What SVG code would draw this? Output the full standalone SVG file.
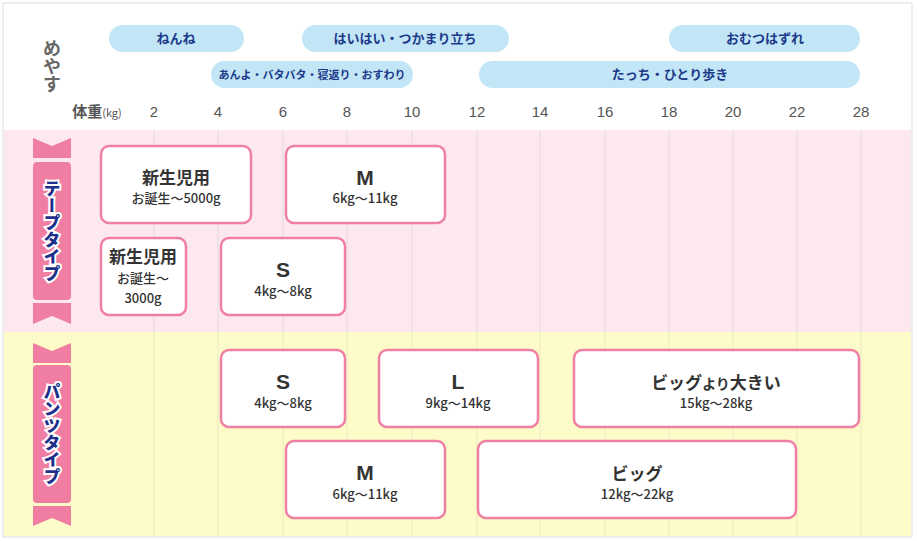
<svg xmlns="http://www.w3.org/2000/svg" width="917" height="541" viewBox="0 0 917 541">
<style>
.pill{fill:#c3e6f7}
.pt{font-family:"Noto Sans CJK JP",sans-serif;font-weight:bold;fill:#1d3a8a;text-anchor:middle}
.ax{font-family:"Liberation Sans",Arial,sans-serif;font-size:15px;fill:#555;text-anchor:middle}
.box{fill:#fff;stroke:#ef7fa3;stroke-width:2.5}
.t1{font-family:"Noto Sans CJK JP",sans-serif;font-size:17px;font-weight:bold;fill:#333;text-anchor:middle}
.t2{font-family:"Noto Sans CJK JP",sans-serif;font-size:13px;font-weight:500;fill:#333;text-anchor:middle}
.big{font-family:"Liberation Sans",Arial,sans-serif;font-size:21px}
.rib{fill:#f07ea2}
.vt{font-family:"Noto Sans CJK JP",sans-serif;font-size:17px;font-weight:900;fill:#1d2f8a;stroke:#fff;stroke-width:4;paint-order:stroke;writing-mode:vertical-rl;text-anchor:middle}
.grid{stroke:#e8d8e0;stroke-width:1}
.gridy{stroke:#ece8c8;stroke-width:1}
</style>
<rect x="3" y="3" width="909" height="534" fill="#fff" stroke="#ddd"/>
<rect x="4" y="130" width="907" height="202" fill="#fde8ee"/>
<rect x="4" y="332" width="907" height="204" fill="#fdfbc8"/>
<g id="grid">
<path class="grid" d="M154 130V332M218 130V332M283 130V332M347 130V332M412 130V332M477 130V332M540 130V332M605 130V332M669 130V332M733 130V332M797 130V332M861 130V332"/>
<path class="gridy" d="M154 332V536M218 332V536M283 332V536M347 332V536M412 332V536M477 332V536M540 332V536M605 332V536M669 332V536M733 332V536M797 332V536M861 332V536"/>
</g>
<g id="header">
<text x="52" y="66" font-family="Noto Sans CJK JP,sans-serif" font-size="18" font-weight="bold" fill="#666" style="writing-mode:vertical-rl" text-anchor="middle" dominant-baseline="central">めやす</text>
<g id="p1"><rect class="pill" x="109" y="25" width="135" height="27" rx="13.5"/><text class="pt" x="176" y="43" font-size="13">ねんね</text></g>
<g id="p2"><rect class="pill" x="302" y="25" width="207" height="27" rx="13.5"/><text class="pt" x="405" y="43" font-size="13">はいはい・つかまり立ち</text></g>
<g id="p3"><rect class="pill" x="669" y="25" width="191" height="27" rx="13.5"/><text class="pt" x="765" y="43" font-size="13">おむつはずれ</text></g>
<g id="p4"><rect class="pill" x="211" y="61" width="202" height="27" rx="13.5"/><text class="pt" x="312" y="79" font-size="11">あんよ・バタバタ・寝返り・おすわり</text></g>
<g id="p5"><rect class="pill" x="479" y="61" width="381" height="27" rx="13.5"/><text class="pt" x="670" y="79" font-size="13">たっち・ひとり歩き</text></g>
<text x="97" y="117" font-family="Noto Sans CJK JP,sans-serif" font-size="15" font-weight="bold" fill="#555" text-anchor="middle">体重<tspan font-size="11" font-weight="normal">(kg)</tspan></text>
<text class="ax" y="117"><tspan x="154">2</tspan><tspan x="218">4</tspan><tspan x="283">6</tspan><tspan x="347">8</tspan><tspan x="412">10</tspan><tspan x="477">12</tspan><tspan x="540">14</tspan><tspan x="605">16</tspan><tspan x="669">18</tspan><tspan x="733">20</tspan><tspan x="797">22</tspan><tspan x="861">28</tspan></text>
</g>
<g id="tape-label">
<path class="rib" d="M33 138L52 146L71 138V158H33Z"/>
<rect class="rib" x="33" y="162" width="38" height="138" rx="4"/>
<path class="rib" d="M33 303H71V324L52 316L33 324Z"/>
<text class="vt" x="52" y="231" dominant-baseline="central">テープタイプ</text>
</g>
<g id="pants-label">
<path class="rib" d="M33 343L52 351L71 343V363H33Z"/>
<rect class="rib" x="33" y="365" width="38" height="138" rx="4"/>
<path class="rib" d="M33 506H71V526L52 518L33 526Z"/>
<text class="vt" x="52" y="434" dominant-baseline="central">パンツタイプ</text>
</g>
<g id="tape-nb5000"><rect class="box" x="101" y="146" width="150" height="77" rx="8"/><text class="t1" x="176" y="184">新生児用</text><text class="t2" x="176" y="203">お誕生～5000g</text></g>
<g id="tape-m"><rect class="box" x="286" y="146" width="159" height="77" rx="8"/><text class="t1 big" x="365" y="185">M</text><text class="t2" x="365" y="203">6kg～11kg</text></g>
<g id="tape-nb3000"><rect class="box" x="101" y="238" width="85" height="77" rx="8"/><text class="t1" x="143" y="263">新生児用</text><text class="t2" x="143" y="283" font-size="12">お誕生～</text><text class="t2" x="143" y="303" font-size="12">3000g</text></g>
<g id="tape-s"><rect class="box" x="221" y="238" width="124" height="77" rx="8"/><text class="t1 big" x="283" y="277">S</text><text class="t2" x="283" y="296">4kg～8kg</text></g>
<g id="pants-s"><rect class="box" x="221" y="350" width="124" height="77" rx="8"/><text class="t1 big" x="283" y="389">S</text><text class="t2" x="283" y="408">4kg～8kg</text></g>
<g id="pants-l"><rect class="box" x="379" y="350" width="159" height="77" rx="8"/><text class="t1 big" x="458" y="389">L</text><text class="t2" x="458" y="408">9kg～14kg</text></g>
<g id="pants-bigger"><rect class="box" x="574" y="350" width="285" height="77" rx="8"/><text class="t1" x="716" y="389" font-size="19">ビッグ<tspan font-size="14">より</tspan>大きい</text><text class="t2" x="716" y="408">15kg～28kg</text></g>
<g id="pants-m"><rect class="box" x="286" y="441" width="159" height="77" rx="8"/><text class="t1 big" x="365" y="480">M</text><text class="t2" x="365" y="499">6kg～11kg</text></g>
<g id="pants-big"><rect class="box" x="478" y="441" width="318" height="77" rx="8"/><text class="t1" x="637" y="480" font-size="19">ビッグ</text><text class="t2" x="637" y="499">12kg～22kg</text></g>
<g id="connectors"/>
</svg>
